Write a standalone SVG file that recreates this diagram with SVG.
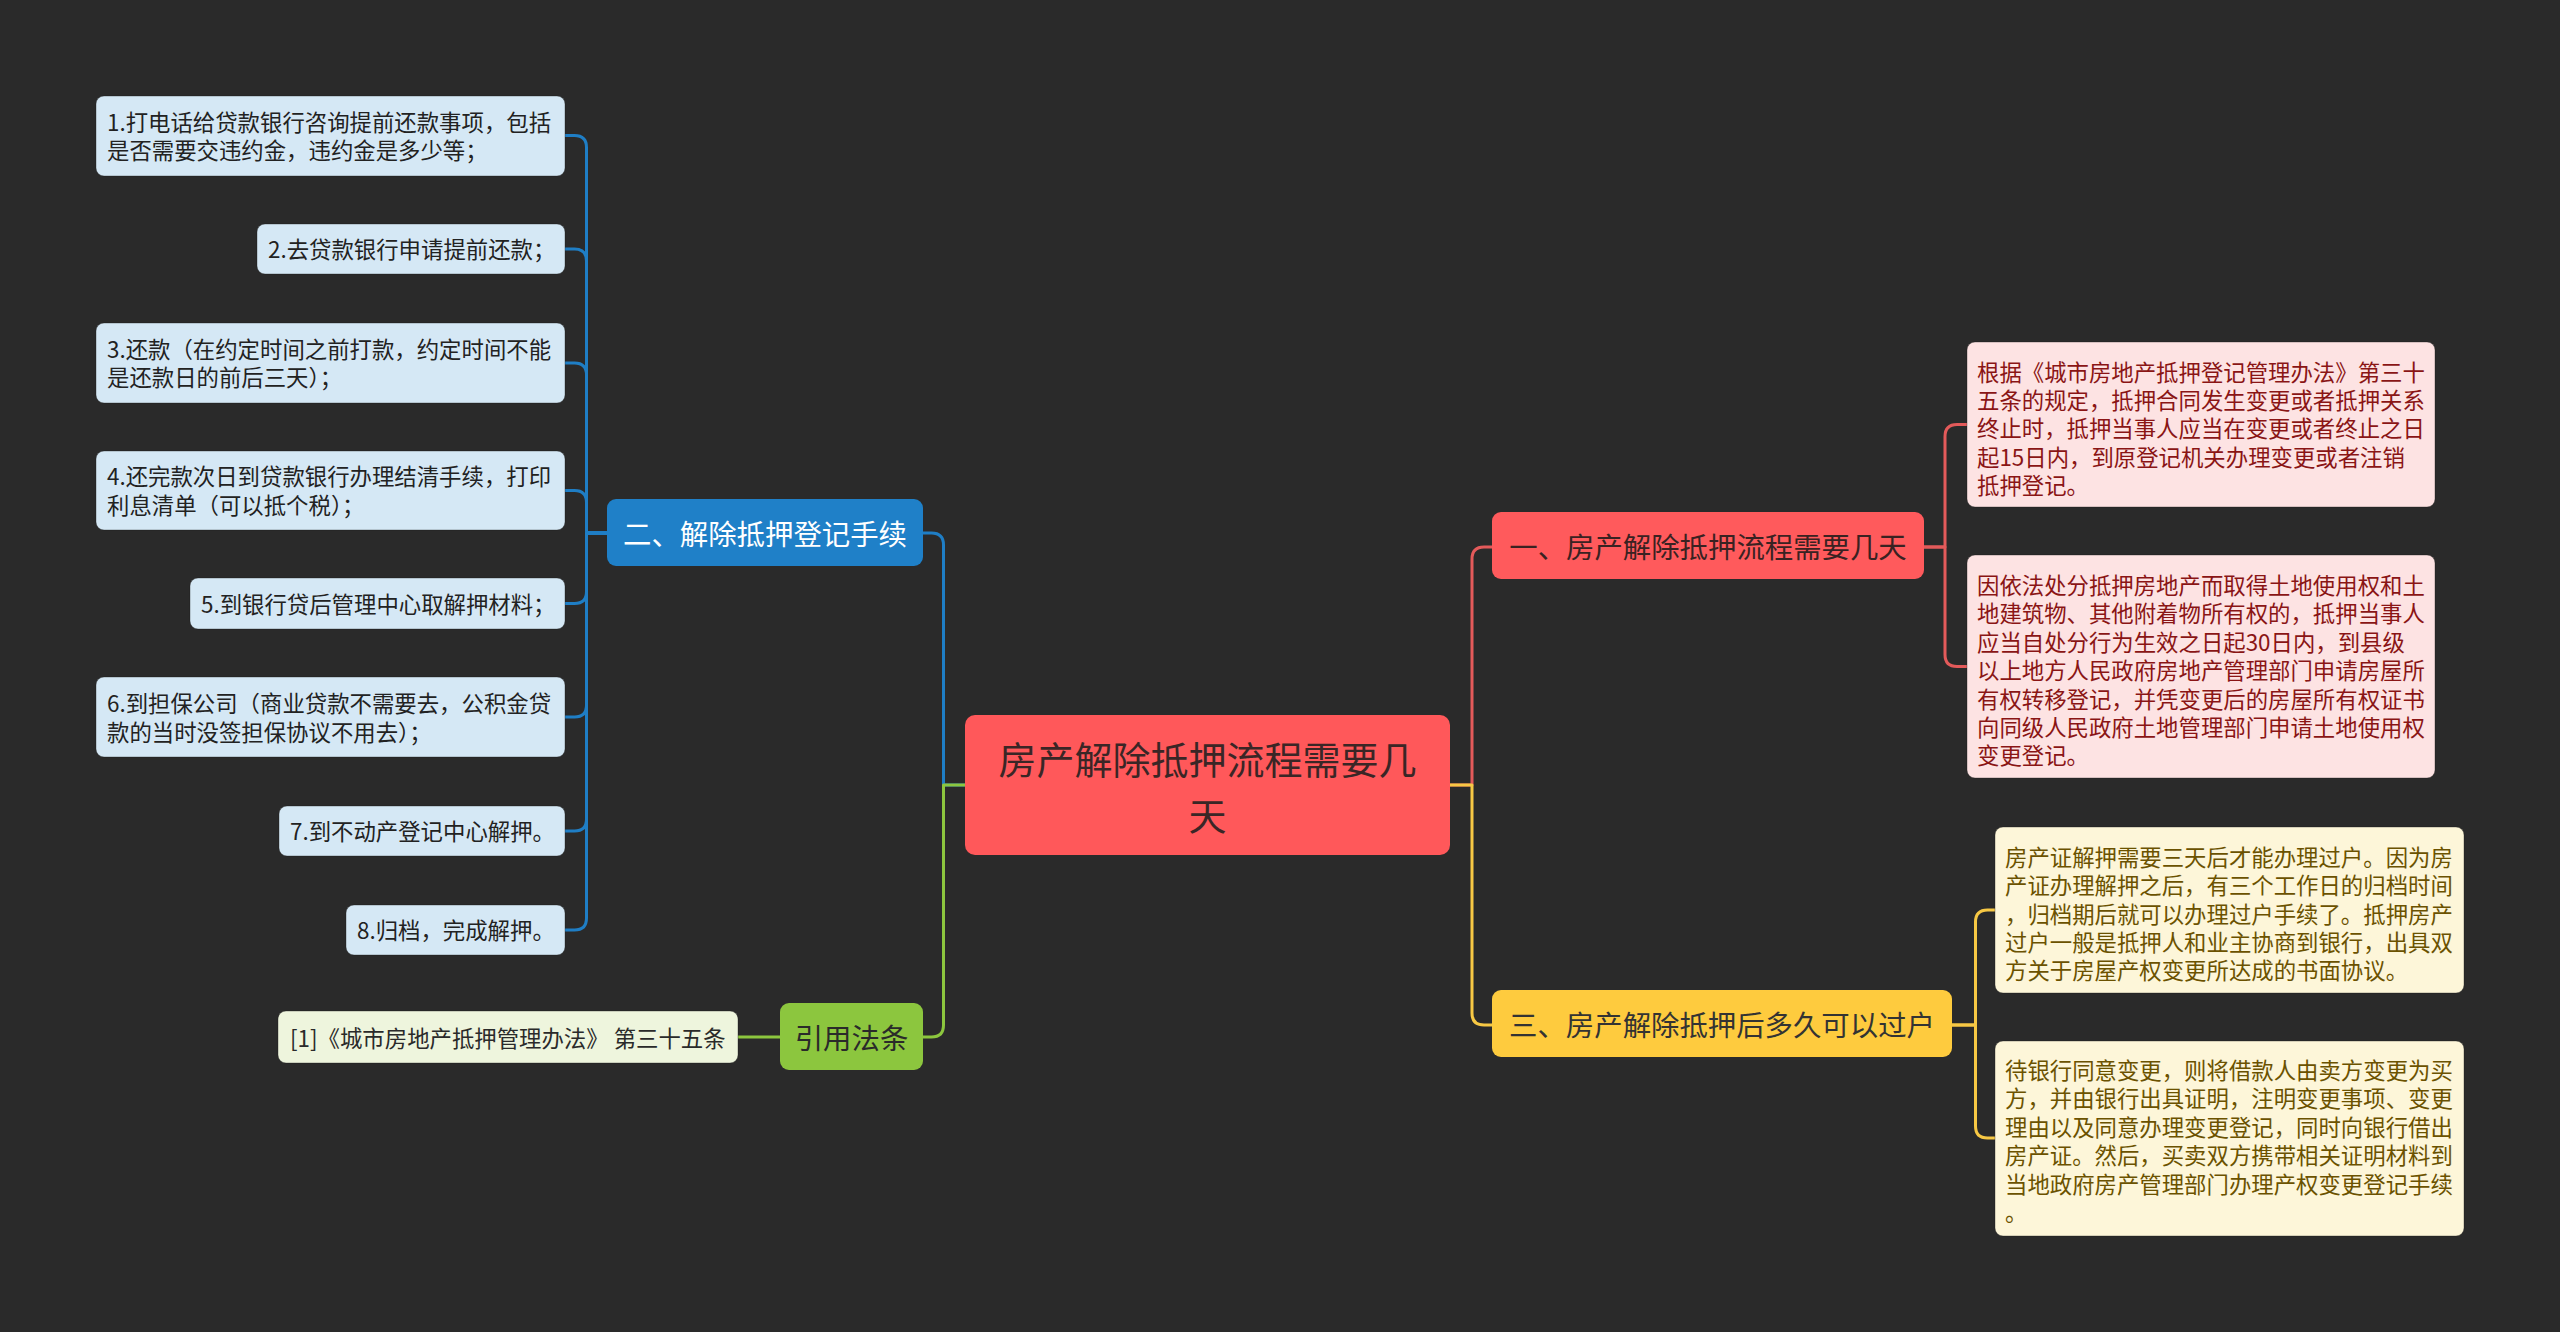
<svg xmlns="http://www.w3.org/2000/svg" width="2560" height="1332" viewBox="0 0 2560 1332">
<style>
text{font-family:"Noto Sans CJK SC","Noto Sans",sans-serif;dominant-baseline:central}
.lf{font-size:22.4px}
.br{font-size:28.4px;text-anchor:middle}
.cl{fill:none;stroke-width:3;stroke-linecap:round;stroke-linejoin:round}
.bl{stroke:#1f7ec5}.rd{stroke:#e35a5a}.ye{stroke:#f7c844}.gr{stroke:#8cc63e}
.lb{fill:#d5e8f5;stroke:#1a1a1a;stroke-opacity:.35}
.lr{fill:#fde3e3;stroke:#1a1a1a;stroke-opacity:.35}
.ly{fill:#fdf6d9;stroke:#1a1a1a;stroke-opacity:.35}
.lg{fill:#eef5dd;stroke:#1a1a1a;stroke-opacity:.35}
.tb{fill:#222}.tr{fill:#8a1515}.ty{fill:#6b5200}.tg{fill:#2a2a2a}
</style>
<rect width="2560" height="1332" fill="#2a2a2a"/>
<g id="connectors">
<path class="cl bl" d="M965,785 H943.5 V545 Q943.5,533 931.5,533 H923"/>
<path class="cl gr" d="M965,785 H943.5 V1025 Q943.5,1037 931.5,1037 H923"/>
<path class="cl rd" d="M1450,785 H1472 V559 Q1472,547 1484,547 H1492"/>
<path class="cl ye" d="M1450,785 H1472 V1013 Q1472,1025 1484,1025 H1492"/>
<path class="cl bl" d="M607,533 H586.5 V147.5 Q586.5,135.5 574.5,135.5 H565"/>
<path class="cl bl" d="M607,533 H586.5 V261 Q586.5,249 574.5,249 H565"/>
<path class="cl bl" d="M607,533 H586.5 V375 Q586.5,363 574.5,363 H565"/>
<path class="cl bl" d="M607,533 H586.5 V502.5 Q586.5,490.5 574.5,490.5 H565"/>
<path class="cl bl" d="M607,533 H586.5 V591.5 Q586.5,603.5 574.5,603.5 H565"/>
<path class="cl bl" d="M607,533 H586.5 V705 Q586.5,717 574.5,717 H565"/>
<path class="cl bl" d="M607,533 H586.5 V819 Q586.5,831 574.5,831 H565"/>
<path class="cl bl" d="M607,533 H586.5 V918 Q586.5,930 574.5,930 H565"/>
<path class="cl gr" d="M780,1037 H738"/>
<path class="cl rd" d="M1924,547 H1945 V436.5 Q1945,424.5 1957,424.5 H1967"/>
<path class="cl rd" d="M1924,547 H1945 V654.5 Q1945,666.5 1957,666.5 H1967"/>
<path class="cl ye" d="M1952,1025 H1975.5 V922 Q1975.5,910 1987.5,910 H1995"/>
<path class="cl ye" d="M1952,1025 H1975.5 V1126 Q1975.5,1138 1987.5,1138 H1995"/>
</g>
<g id="center">
<rect x="965" y="715" width="485" height="140" rx="10" fill="#ff585a"/>
<text font-size="38" text-anchor="middle" fill="#3a2626"><tspan x="1207.5" y="757">房产解除抵押流程需要几</tspan><tspan x="1207.5" y="813">天</tspan></text>
</g>
<g id="node-b1">
<rect x="607" y="499" width="316" height="67" rx="9" fill="#1f80c8"/>
<text class="br" x="765" y="532" fill="#ffffff">二、解除抵押登记手续</text>
</g>
<g id="node-cite">
<rect x="780" y="1003" width="143" height="67" rx="9" fill="#8cc63e"/>
<text class="br" x="851.5" y="1036" fill="#2a2a2a">引用法条</text>
</g>
<g id="node-r1">
<rect x="1492" y="512" width="432" height="67" rx="9" fill="#ff5a5c"/>
<text class="br" x="1708" y="545" fill="#3a2222">一、房产解除抵押流程需要几天</text>
</g>
<g id="node-r3">
<rect x="1492" y="990" width="460" height="67" rx="9" fill="#fecb3e"/>
<text class="br" x="1722" y="1023" fill="#333333">三、房产解除抵押后多久可以过户</text>
</g>
<g id="leaf-1">
<rect class="lb" x="96" y="96" width="469" height="80" rx="8"/>
<text class="lf tb"><tspan x="107" y="120.5">1.打电话给贷款银行咨询提前还款事项，包括</tspan><tspan x="107" y="149">是否需要交违约金，违约金是多少等；</tspan></text>
</g>
<g id="leaf-2">
<rect class="lb" x="257" y="224" width="308" height="50" rx="8"/>
<text class="lf tb" x="268" y="248">2.去贷款银行申请提前还款；</text>
</g>
<g id="leaf-3">
<rect class="lb" x="96" y="323" width="469" height="80" rx="8"/>
<text class="lf tb"><tspan x="107" y="347.5">3.还款（在约定时间之前打款，约定时间不能</tspan><tspan x="107" y="376">是还款日的前后三天）；</tspan></text>
</g>
<g id="leaf-4">
<rect class="lb" x="96" y="451" width="469" height="79" rx="8"/>
<text class="lf tb"><tspan x="107" y="475">4.还完款次日到贷款银行办理结清手续，打印</tspan><tspan x="107" y="503.5">利息清单（可以抵个税）；</tspan></text>
</g>
<g id="leaf-5">
<rect class="lb" x="190" y="578" width="375" height="51" rx="8"/>
<text class="lf tb" x="201" y="602.5">5.到银行贷后管理中心取解押材料；</text>
</g>
<g id="leaf-6">
<rect class="lb" x="96" y="677" width="469" height="80" rx="8"/>
<text class="lf tb"><tspan x="107" y="702">6.到担保公司（商业贷款不需要去，公积金贷</tspan><tspan x="107" y="730.5">款的当时没签担保协议不用去）；</tspan></text>
</g>
<g id="leaf-7">
<rect class="lb" x="279" y="806" width="286" height="50" rx="8"/>
<text class="lf tb" x="290" y="830">7.到不动产登记中心解押。</text>
</g>
<g id="leaf-8">
<rect class="lb" x="346" y="905" width="219" height="50" rx="8"/>
<text class="lf tb" x="357" y="929">8.归档，完成解押。</text>
</g>
<g id="leaf-cite">
<rect class="lg" x="278" y="1011" width="460" height="52" rx="8"/>
<text class="lf tg" x="290" y="1036.5">[1]《城市房地产抵押管理办法》 第三十五条</text>
</g>
<g id="leaf-r1a">
<rect class="lr" x="1967" y="342" width="468" height="165" rx="8"/>
<text class="lf tr"><tspan x="1977" y="370.5">根据《城市房地产抵押登记管理办法》第三十</tspan><tspan x="1977" y="398.9">五条的规定，抵押合同发生变更或者抵押关系</tspan><tspan x="1977" y="427.3">终止时，抵押当事人应当在变更或者终止之日</tspan><tspan x="1977" y="455.7">起15日内，到原登记机关办理变更或者注销</tspan><tspan x="1977" y="484.1">抵押登记。</tspan></text>
</g>
<g id="leaf-r1b">
<rect class="lr" x="1967" y="555" width="468" height="223" rx="8"/>
<text class="lf tr"><tspan x="1977" y="584">因依法处分抵押房地产而取得土地使用权和土</tspan><tspan x="1977" y="612.4">地建筑物、其他附着物所有权的，抵押当事人</tspan><tspan x="1977" y="640.8">应当自处分行为生效之日起30日内，到县级</tspan><tspan x="1977" y="669.2">以上地方人民政府房地产管理部门申请房屋所</tspan><tspan x="1977" y="697.6">有权转移登记，并凭变更后的房屋所有权证书</tspan><tspan x="1977" y="726">向同级人民政府土地管理部门申请土地使用权</tspan><tspan x="1977" y="754.4">变更登记。</tspan></text>
</g>
<g id="leaf-r3a">
<rect class="ly" x="1995" y="827" width="469" height="166" rx="8"/>
<text class="lf ty"><tspan x="2005" y="855.7">房产证解押需要三天后才能办理过户。因为房</tspan><tspan x="2005" y="884.1">产证办理解押之后，有三个工作日的归档时间</tspan><tspan x="2005" y="912.5">，归档期后就可以办理过户手续了。抵押房产</tspan><tspan x="2005" y="940.9">过户一般是抵押人和业主协商到银行，出具双</tspan><tspan x="2005" y="969.3">方关于房屋产权变更所达成的书面协议。</tspan></text>
</g>
<g id="leaf-r3b">
<rect class="ly" x="1995" y="1041" width="469" height="195" rx="8"/>
<text class="lf ty"><tspan x="2005" y="1069">待银行同意变更，则将借款人由卖方变更为买</tspan><tspan x="2005" y="1097.4">方，并由银行出具证明，注明变更事项、变更</tspan><tspan x="2005" y="1125.8">理由以及同意办理变更登记，同时向银行借出</tspan><tspan x="2005" y="1154.2">房产证。然后，买卖双方携带相关证明材料到</tspan><tspan x="2005" y="1182.6">当地政府房产管理部门办理产权变更登记手续</tspan><tspan x="2005" y="1211">。</tspan></text>
</g>
</svg>
